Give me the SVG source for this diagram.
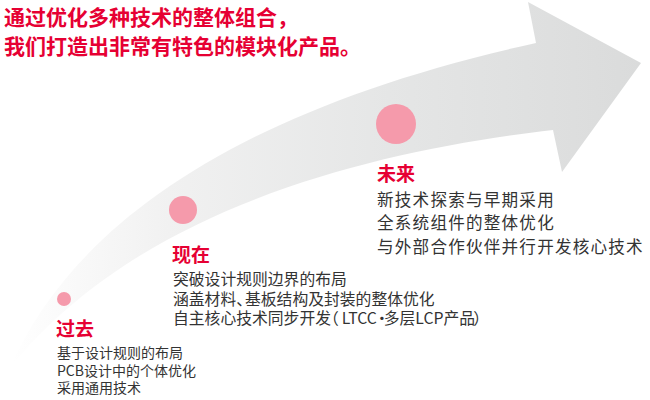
<svg xmlns="http://www.w3.org/2000/svg" width="650" height="400" viewBox="0 0 650 400">
  <defs>
    <linearGradient id="arrowGrad" gradientUnits="userSpaceOnUse" x1="10" y1="0" x2="642" y2="0">
      <stop offset="0" stop-color="#ffffff"/>
      <stop offset="0.25" stop-color="#f1f1f1"/>
      <stop offset="0.6" stop-color="#e5e6e6"/>
      <stop offset="1" stop-color="#dadbdb"/>
    </linearGradient>
    <style>
      .title { font-family: "Noto Sans CJK SC", "Noto Sans", sans-serif; font-weight: 700; font-size: 21px; fill: #e60033; }
      .head { font-family: "Noto Sans CJK SC", "Noto Sans", sans-serif; font-weight: 700; font-size: 19px; fill: #e60033; }
      .body { font-family: "Noto Sans CJK SC", "Noto Sans", sans-serif; font-weight: 400; fill: #333333; }
      .dot { fill: #f59aab; }
    </style>
  </defs>
  <rect width="650" height="400" fill="#ffffff"/>

  <g id="connectors">
    <path id="arrow" fill="url(#arrowGrad)"
      d="M10,368 C70,230 230,110 536,43 L528,2 L641,63 L562,172 L553,130 C380,150 140,205 10,368 Z"/>
  </g>

  <g id="title">
    <text class="title" x="4" y="24.5">通过优化多种技术的整体组合，</text>
    <text class="title" x="4" y="53.5">我们打造出非常有特色的模块化产品。</text>
  </g>

  <g id="past">
    <circle class="dot" cx="64" cy="299" r="7"/>
    <text class="head" x="56" y="335.5">过去</text>
    <text class="body" font-size="14" x="57" y="358">基于设计规则的布局</text>
    <text class="body" font-size="14" x="57" y="375.5">PCB设计中的个体优化</text>
    <text class="body" font-size="14" x="57" y="393">采用通用技术</text>
  </g>

  <g id="present">
    <circle class="dot" cx="183" cy="210" r="14"/>
    <text class="head" x="172" y="261.5">现在</text>
    <text class="body" font-size="15.8" x="173" y="285">突破设计规则边界的布局</text>
    <text class="body" font-size="15.8" x="173" y="304.5">涵盖材料<tspan letter-spacing="-7">、</tspan>基板结构及封装的整体优化</text>
    <text class="body" font-size="15.8" x="173" y="324">自主核心技术同步开发<tspan dx="-8" letter-spacing="3">（</tspan>LTCC<tspan dx="-3" letter-spacing="-6">•</tspan>多层LCP产品<tspan dx="-2">）</tspan></text>
  </g>

  <g id="future">
    <circle class="dot" cx="396" cy="124" r="20"/>
    <text class="head" x="377" y="180.5">未来</text>
    <text class="body" font-size="16.6" letter-spacing="1.2" x="377" y="205.5">新技术探索与早期采用</text>
    <text class="body" font-size="16.6" letter-spacing="1.2" x="377" y="229">全系统组件的整体优化</text>
    <text class="body" font-size="16.6" letter-spacing="1.2" x="377" y="252.5">与外部合作伙伴并行开发核心技术</text>
  </g>
</svg>
